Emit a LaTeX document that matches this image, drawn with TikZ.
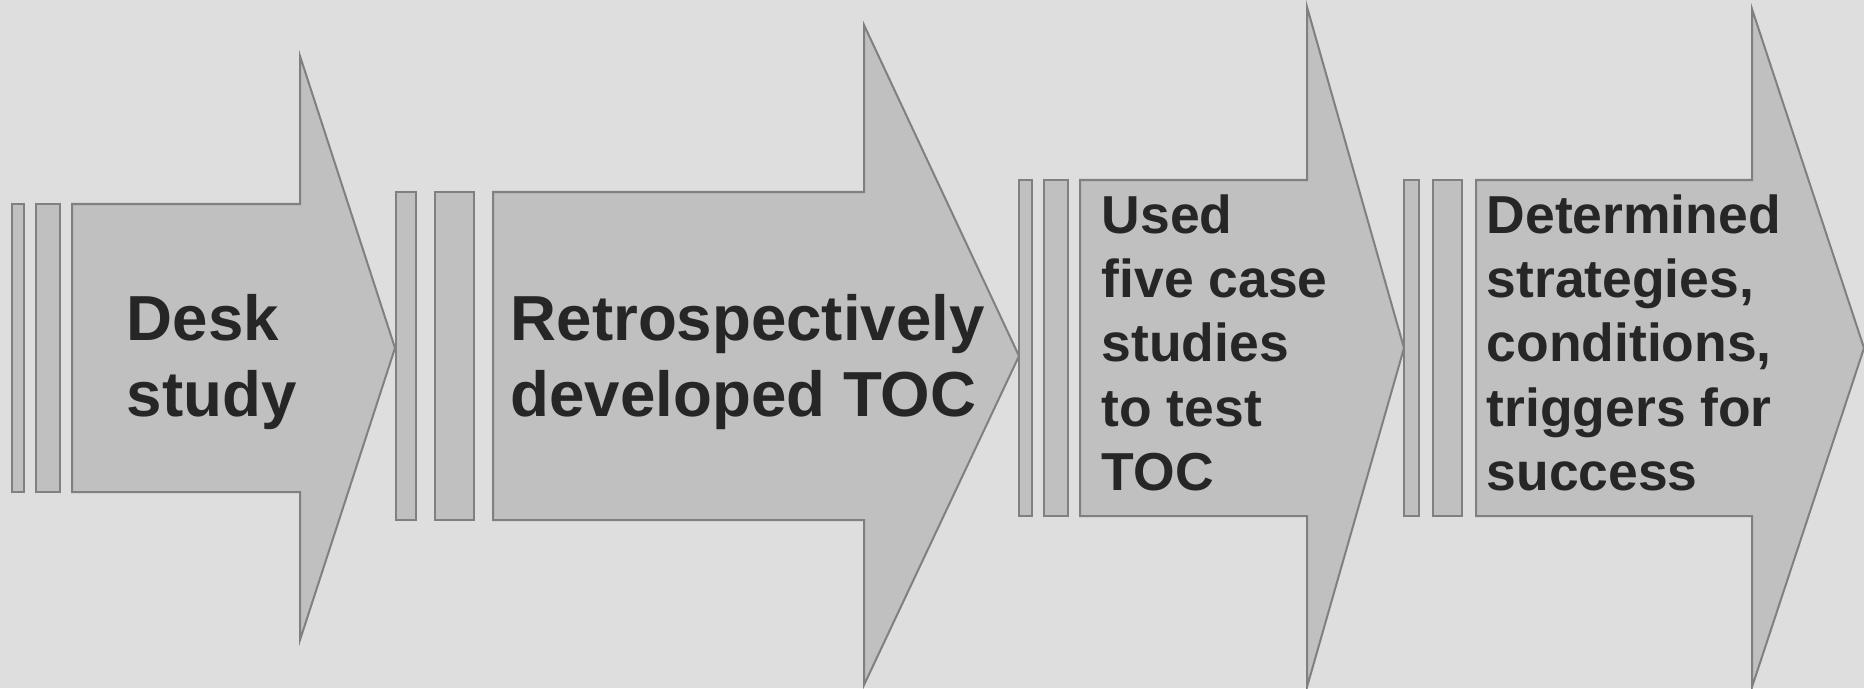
\documentclass[tikz,border=0pt]{standalone}
\usepackage{fontspec}
\setmainfont{Liberation Sans}
\usetikzlibrary{positioning}
\definecolor{bggray}{HTML}{DEDEDE}
\definecolor{fillgray}{HTML}{C0C0C0}
\definecolor{edgegray}{HTML}{808080}
\definecolor{textdark}{HTML}{262626}

\begin{document}
\begin{tikzpicture}[x=0.01cm, y=-0.01cm,
    arrowshape/.style={draw=edgegray, fill=fillgray, line width=0.02cm, line join=miter},
    barbox/.style={draw=edgegray, fill=fillgray, line width=0.02cm},
    bigtext/.style={font=\fontsize{18.1}{21.4}\selectfont\bfseries, textdark, align=left, inner sep=0pt, anchor=base west},
    smalltext/.style={font=\fontsize{15.2}{18.2}\selectfont\bfseries, textdark, align=left, inner sep=0pt, anchor=base west}]
    \fill[bggray] (0, 0) rectangle (1864, 688);
    \useasboundingbox (0, 0) rectangle (1864, 688);

    % step 1
    \draw[barbox] (12, 204) rectangle (24, 492);
    \draw[barbox] (36, 204) rectangle (60, 492);
    \draw[arrowshape] (72, 204) -- (300, 204) -- (300, 56) -- (395, 348) -- (300, 640) -- (300, 492) -- (72, 492) -- cycle;
    \node[bigtext] (desk) at (126, 416) {Desk\\study};

    % step 2
    \draw[barbox] (396, 192) rectangle (416, 520);
    \draw[barbox] (435, 192) rectangle (474, 520);
    \draw[arrowshape] (493, 192) -- (864, 192) -- (864, 25) -- (1019, 356) -- (864, 685) -- (864, 520) -- (493, 520) -- cycle;
    \node[bigtext] (retro) at (510, 416) {Retrospectively\\developed TOC};

    % step 3
    \draw[barbox] (1019, 180) rectangle (1032, 516);
    \draw[barbox] (1044, 180) rectangle (1068, 516);
    \draw[arrowshape] (1080, 180) -- (1307, 180) -- (1307, 7) -- (1404, 348) -- (1307, 687) -- (1307, 516) -- (1080, 516) -- cycle;
    \node[smalltext] (cases) at (1101, 490) {Used\\five case\\studies\\to test\\TOC};

    % step 4
    \draw[barbox] (1404, 180) rectangle (1419, 516);
    \draw[barbox] (1433, 180) rectangle (1462, 516);
    \draw[arrowshape] (1476, 180) -- (1752, 180) -- (1752, 9) -- (1864, 348) -- (1752, 687) -- (1752, 516) -- (1476, 516) -- cycle;
    \node[smalltext] (success) at (1486, 490) {Determined\\strategies,\\conditions,\\triggers for\\success};
\end{tikzpicture}
\end{document}
